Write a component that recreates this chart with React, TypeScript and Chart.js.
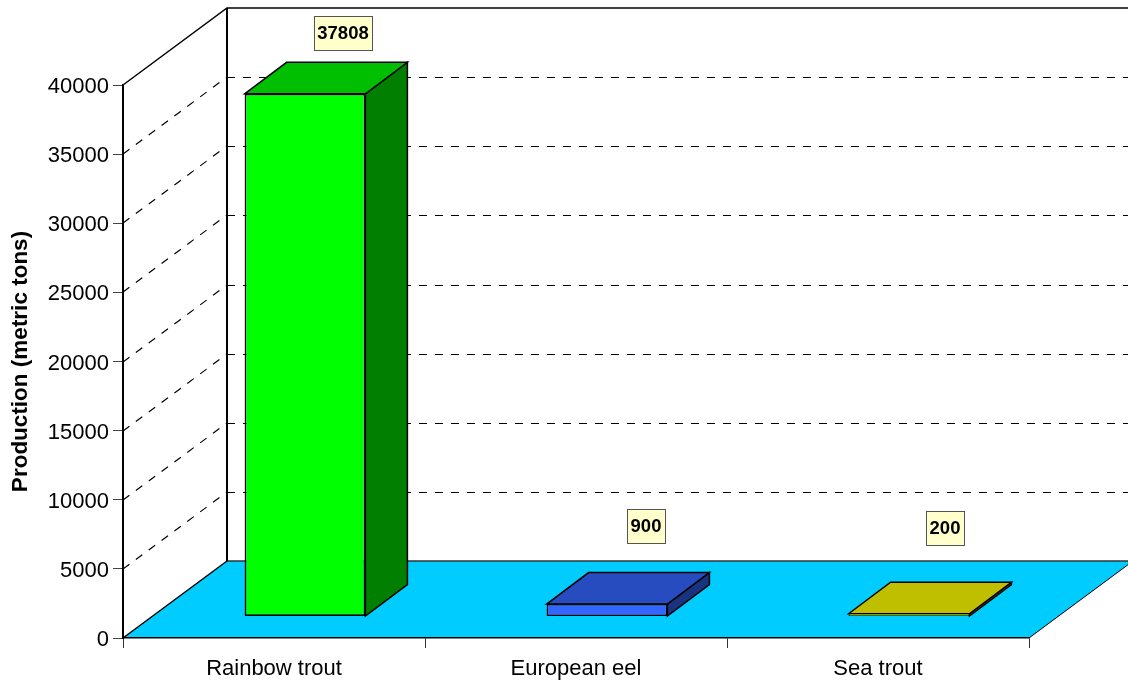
import React, { useEffect, useRef } from "react";
import { Chart, registerables } from "chart.js";

Chart.register(...registerables);

const species = ["Rainbow trout", "European eel", "Sea trout"];
const production = [37808, 900, 200];
const frontColors = ["#00ff00", "#3366ff", "#ffff00"];
const topColors = ["#00bf00", "#264cbf", "#bfbf00"];
const sideColors = ["#007f00", "#19337f", "#7f7f00"];
const outlineWidths = [1.75, 1.5, 0.8];
const yTicks = [5000, 10000, 15000, 20000, 25000, 30000, 35000, 40000];

// Oblique projection of the box: room depth, bar inset and bar depth in pixels.
const ROOM = { dx: 104, dy: -77 };
const INSET = { dx: 31, dy: -21.5 };
const BAR = { dx: 42, dy: -31.5 };
const FONT = "'Liberation Sans', Arial, sans-serif";
// Value tag centres relative to each bar's unshifted top edge centre.
const TAG_SHIFT = [
  [69, -82],
  [70, -100],
  [67, -107],
];

const poly = (ctx: CanvasRenderingContext2D, pts: number[][], fill: string | null, lw: number, stroke = "#000") => {
  ctx.beginPath();
  pts.forEach(([x, y], i) => (i ? ctx.lineTo(x, y) : ctx.moveTo(x, y)));
  if (fill) {
    ctx.closePath();
    ctx.fillStyle = fill;
    ctx.fill();
  }
  if (lw > 0) {
    ctx.lineWidth = lw;
    ctx.strokeStyle = stroke;
    ctx.stroke();
  }
};

const roomPlugin = {
  id: "room",
  beforeDraw(chart: any) {
    const { ctx, chartArea: a, scales } = chart;
    const { dx, dy } = ROOM;
    ctx.save();
    ctx.fillStyle = "#ffffff";
    ctx.fillRect(0, 0, chart.width, chart.height);
    // Floor
    poly(ctx, [[a.left, a.bottom], [a.left + dx, a.bottom + dy], [a.right + dx, a.bottom + dy], [a.right, a.bottom]], "#00ccff", 0);
    poly(ctx, [[a.left + dx, a.bottom + dy], [a.right + dx, a.bottom + dy]], null, 1.5, "#333");
    poly(ctx, [[a.right, a.bottom], [a.right + dx, a.bottom + dy]], null, 1);
    poly(ctx, [[a.left, a.bottom], [a.left + dx, a.bottom + dy]], null, 1.5);
    // Dashed gridlines across both walls
    ctx.setLineDash([8, 8]);
    yTicks.slice(0, -1).forEach((v) => {
      const y = Math.round(scales.y.getPixelForValue(v));
      poly(ctx, [[a.left, y], [a.left + dx, y + dy]], null, 1.2);
      poly(ctx, [[a.left + dx, y + dy + 0.5], [chart.width, y + dy + 0.5]], null, 1);
    });
    ctx.setLineDash([]);
    // Wall outlines
    poly(ctx, [[a.left + dx, a.bottom + dy], [a.left + dx, a.top + dy]], null, 2);
    poly(ctx, [[a.left, a.top], [a.left + dx, a.top + dy], [chart.width, a.top + dy]], null, 1.5);
    ctx.restore();
  },
  // The library paints each front face; the two receding faces go in first,
  // inside the same inset translation.
  beforeDatasetDraw(chart: any) {
    const { ctx } = chart;
    ctx.save();
    ctx.translate(INSET.dx, INSET.dy);
    const { dx, dy } = BAR;
    chart.getDatasetMeta(0).data.forEach((bar: any, i: number) => {
      const l = bar.x - bar.width / 2;
      const r = bar.x + bar.width / 2;
      const t = bar.y;
      const b = bar.base;
      poly(ctx, [[r, t], [r + dx, t + dy], [r + dx, b + dy], [r, b]], sideColors[i], 1.5);
      poly(ctx, [[l, t], [l + dx, t + dy], [r + dx, t + dy], [r, t]], topColors[i], 1.5);
    });
  },
  afterDatasetDraw(chart: any) {
    chart.ctx.restore();
  },
  afterDatasetsDraw(chart: any) {
    const { ctx } = chart;
    ctx.save();
    ctx.font = `bold 18.5px ${FONT}`;
    ctx.textAlign = "center";
    ctx.textBaseline = "middle";
    chart.getDatasetMeta(0).data.forEach((bar: any, i: number) => {
      const text = String(production[i]);
      const cx = bar.x + TAG_SHIFT[i][0];
      const cy = bar.y + TAG_SHIFT[i][1];
      const w = Math.round(ctx.measureText(text).width) + 7;
      const h = 34;
      const x0 = Math.round(cx - w / 2) + 0.5;
      const y0 = Math.round(cy - h / 2) + 0.5;
      ctx.fillStyle = "#ffffcc";
      ctx.fillRect(x0, y0, w, h);
      ctx.strokeStyle = "#555";
      ctx.lineWidth = 1;
      ctx.strokeRect(x0, y0, w, h);
      ctx.fillStyle = "#000";
      ctx.fillText(text, cx, cy + 1);
    });
    ctx.restore();
  },
};

export default function App() {
  const canvasRef = useRef<HTMLCanvasElement>(null);

  useEffect(() => {
    const chart = new Chart(canvasRef.current!, {
      type: "bar",
      data: {
        labels: species,
        datasets: [
          {
            label: "Production (metric tons)",
            data: production,
            backgroundColor: frontColors,
            borderColor: "#000",
            borderWidth: outlineWidths,
            borderSkipped: false,
            barPercentage: 0.4,
            categoryPercentage: 1,
            clip: false,
          } as any,
        ],
      },
      options: {
        responsive: false,
        animation: false,
        events: [],
        layout: { padding: { top: 85, right: 99, left: 0, bottom: 0 } },
        plugins: { legend: { display: false }, tooltip: { enabled: false }, title: { display: false } },
        scales: {
          x: {
            afterFit: (s: any) => {
              s.height = 42;
            },
            grid: { offset: true, drawOnChartArea: false, tickLength: 10, color: "#333", tickWidth: 1 },
            border: { color: "#000", width: 1.5 },
            ticks: { color: "#000", font: { family: FONT, size: 22 }, padding: 8, maxRotation: 0 },
          },
          y: {
            min: 0,
            max: 40000,
            afterFit: (s: any) => {
              s.width = 123;
            },
            afterBuildTicks: (s: any) => {
              s.ticks = [0, ...yTicks].map((value) => ({ value }));
            },
            grid: { drawOnChartArea: false, tickLength: 10, color: "#444", tickWidth: 1 },
            border: { color: "#000", width: 2 },
            ticks: {
              color: "#000",
              font: { family: FONT, size: 22 },
              padding: 4,
              labelOffset: 2,
              callback: (v: any) => String(v),
            },
            title: {
              display: true,
              text: "Production (metric tons)",
              color: "#000",
              font: { family: FONT, size: 22.5, weight: "bold" },
              padding: { top: 7, bottom: 0 },
            },
          },
        },
      },
      plugins: [roomPlugin],
    } as any);
    return () => chart.destroy();
  }, []);

  return (
    <div style={{ position: "absolute", left: 0, top: 0, width: 1128, height: 680, overflow: "hidden", background: "#fff" }}>
      <canvas ref={canvasRef} width={1128} height={680} style={{ display: "block" }} />
    </div>
  );
}
